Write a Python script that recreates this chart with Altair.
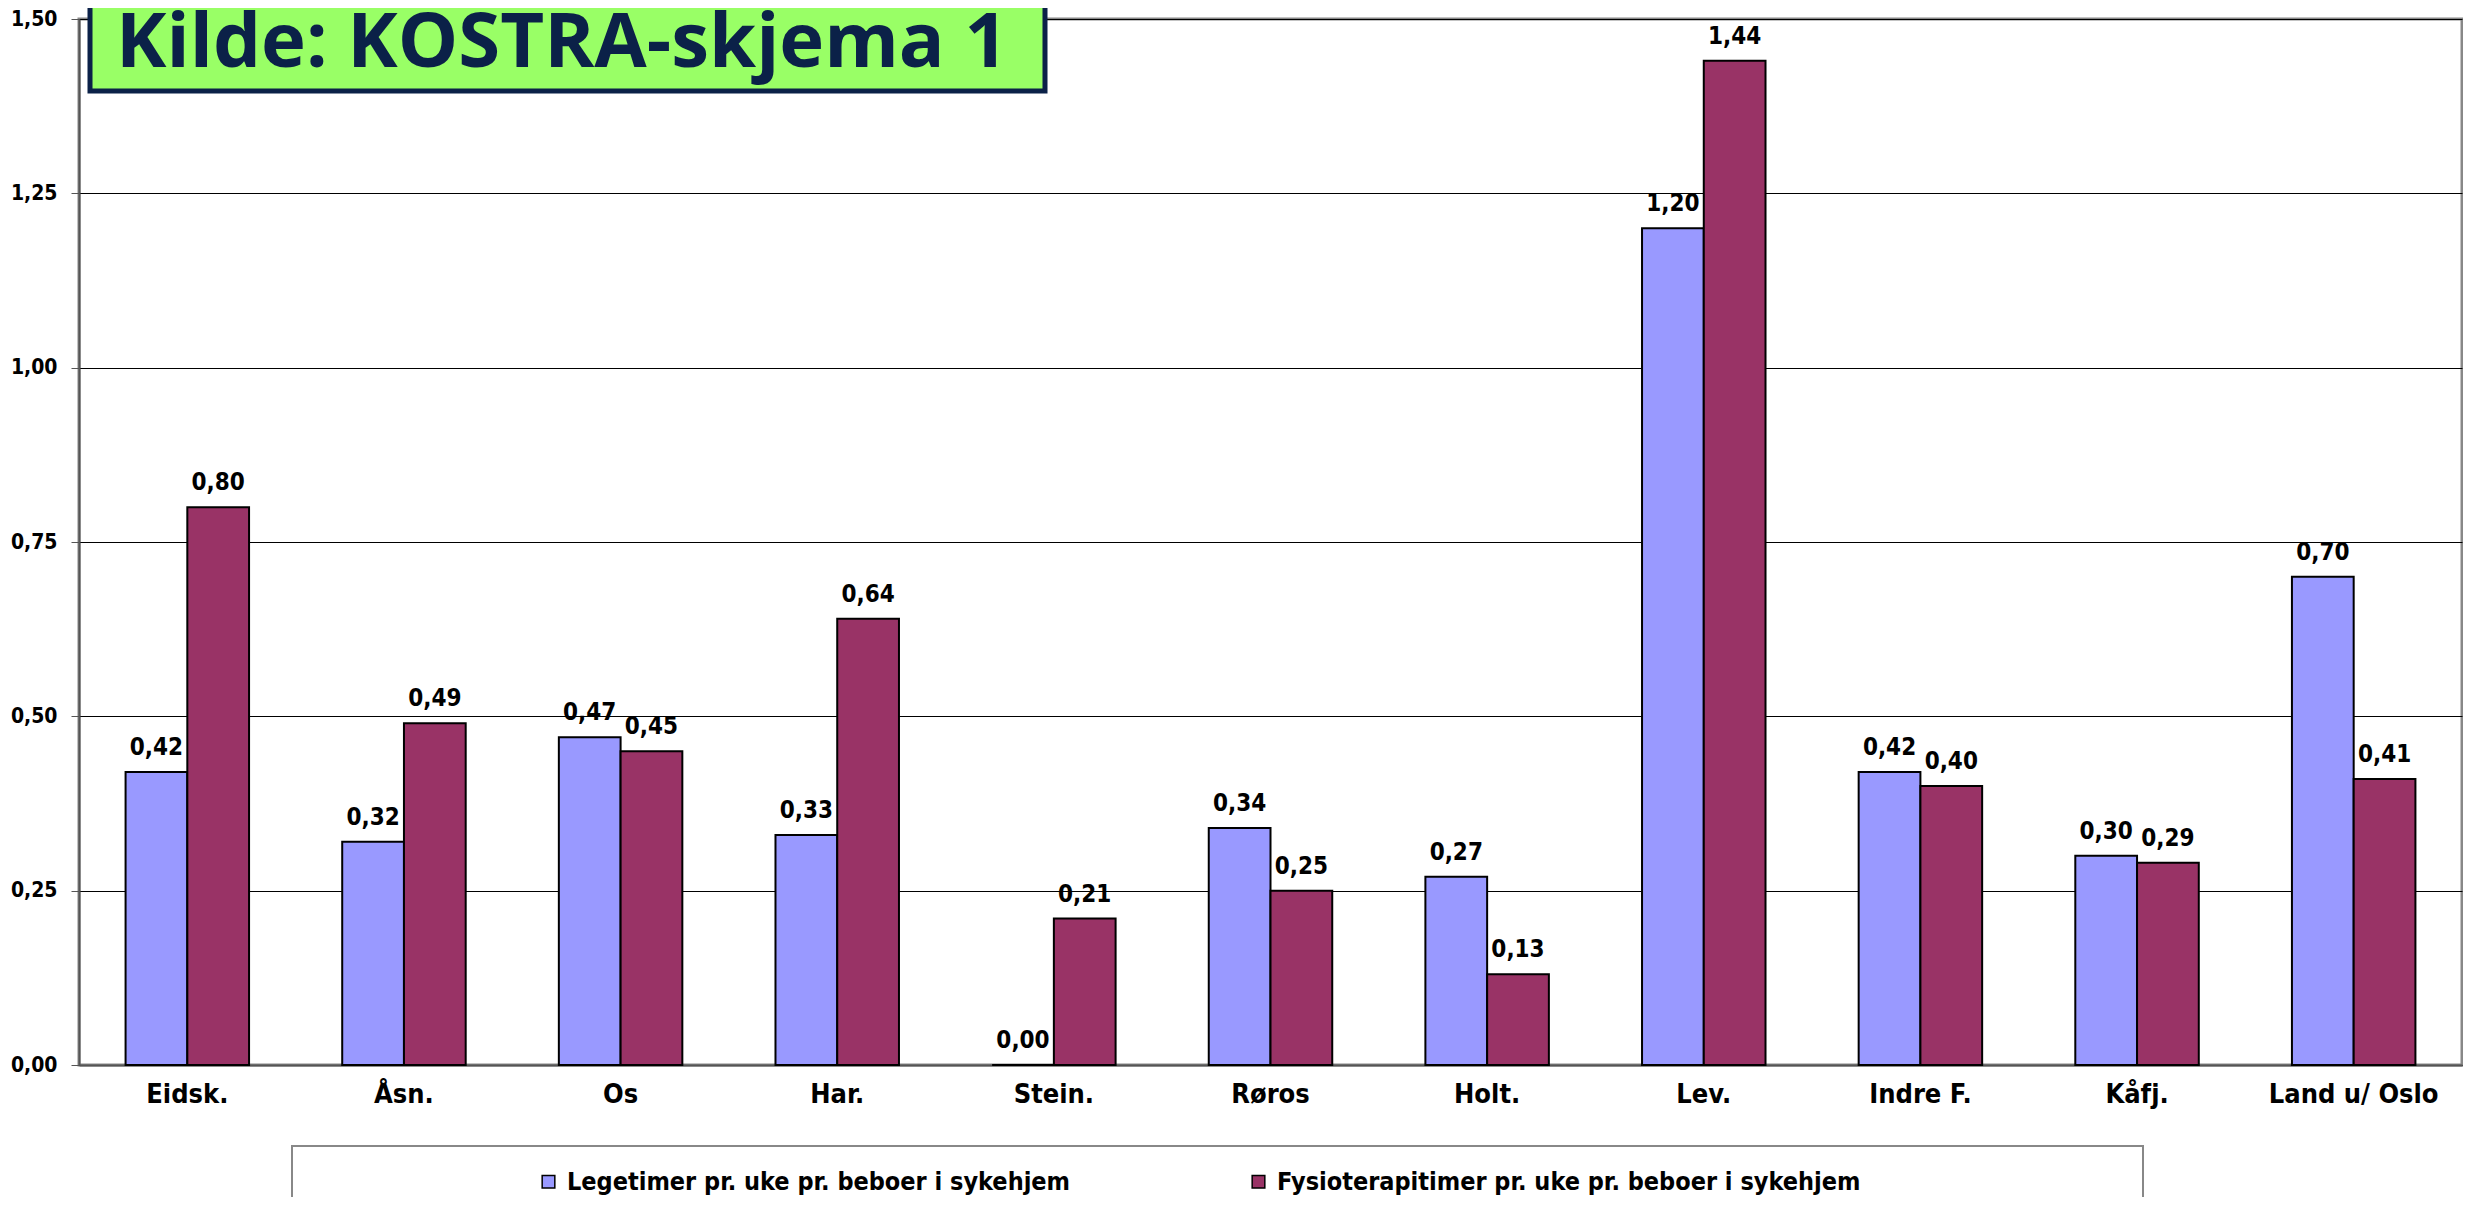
import altair as alt
import pandas as pd

categories = ["Eidsk.", "Åsn.", "Os", "Har.", "Stein.", "Røros", "Holt.", "Lev.",
              "Indre F.", "Kåfj.", "Land u/ Oslo"]
lege = [0.42, 0.32, 0.47, 0.33, 0.00, 0.34, 0.27, 1.20, 0.42, 0.30, 0.70]
fysio = [0.80, 0.49, 0.45, 0.64, 0.21, 0.25, 0.13, 1.44, 0.40, 0.29, 0.41]
series = ["Legetimer pr. uke pr. beboer i sykehjem",
          "Fysioterapitimer pr. uke pr. beboer i sykehjem"]
colors = ["#9999FF", "#993366"]
y_ticks = [0.0, 0.25, 0.5, 0.75, 1.0, 1.25, 1.5]
title_text = "Kilde: KOSTRA-skjema 1"

rows = []
for c, a, b in zip(categories, lege, fysio):
    rows.append({"kommune": c, "serie": series[0], "verdi": a})
    rows.append({"kommune": c, "serie": series[1], "verdi": b})
df = pd.DataFrame(rows)

W, H = 2383, 1046
FONT = "Liberation Sans Narrow, DejaVu Sans Condensed, Arial Narrow, sans-serif"
NAVY = "#0B2148"

x = alt.X("kommune:N", sort=categories,
          scale=alt.Scale(paddingInner=0.43, paddingOuter=0.215),
          axis=alt.Axis(title=None, labelAngle=0, labelFontSize=27, labelFont=FONT,
                        labelFontWeight="bold", labelColor="black", labelPadding=16,
                        ticks=False, domainColor="#555", domainWidth=2, grid=False))
xo = alt.XOffset("serie:N", sort=series)
y = alt.Y("verdi:Q", scale=alt.Scale(domain=[0, 1.5], nice=False),
          axis=alt.Axis(title=None, values=y_ticks,
                        labelExpr="replace(format(datum.value, '.2f'), '.', ',')",
                        labelFontSize=21, labelFont=FONT, labelFontWeight="bold",
                        labelColor="black", labelPadding=14, tickSize=8,
                        tickColor="#555", domainColor="#555", domainWidth=2,
                        grid=True, gridColor="black", gridWidth=1))
color = alt.Color("serie:N", sort=series,
                  scale=alt.Scale(domain=series, range=colors),
                  legend=alt.Legend(orient="none", legendX=457, legendY=1150,
                                    direction="horizontal", columns=2, title=None,
                                    symbolType="square", symbolSize=160,
                                    symbolStrokeColor="black", symbolStrokeWidth=1.5,
                                    labelFontSize=25, labelFont=FONT,
                                    labelFontWeight="bold", labelColor="black",
                                    columnPadding=175, labelLimit=1000, labelOffset=6))

one = pd.DataFrame({"t": [title_text]})

legend_box = alt.Chart(one).mark_rect(fill="white", stroke="#888", strokeWidth=2).encode(
    x=alt.value(213), x2=alt.value(2064), y=alt.value(1127), y2=alt.value(1300))

bars = alt.Chart(df).mark_bar(stroke="black", strokeWidth=2).encode(
    x=x, xOffset=xo, y=y, color=color)

labels = alt.Chart(df).transform_calculate(
    lbl="replace(format(datum.verdi, '.2f'), '.', ',')"
).mark_text(dy=-12, baseline="bottom", fontSize=24, fontWeight="bold",
            font=FONT, color="black").encode(x=x, xOffset=xo, y=y, text="lbl:N")

title_box = alt.Chart(one).mark_rect(fill="#99FF66", stroke=NAVY, strokeWidth=5).encode(
    x=alt.value(11), x2=alt.value(966), y=alt.value(-40), y2=alt.value(72))

title_txt = alt.Chart(one).mark_text(fontSize=76, font="Open Sans", fontWeight="bold",
                                     color=NAVY, align="center", baseline="alphabetic").encode(
    x=alt.value(483), y=alt.value(48), text="t:N")

chart = alt.layer(legend_box, bars, labels, title_box, title_txt).properties(
    width=W, height=H,
    padding={"left": 71, "top": 11, "right": 1, "bottom": 132},
    autosize=alt.AutoSizeParams(type="none"),
).configure_view(stroke="#888", strokeWidth=3)

chart.save("out.html", embed_options={"renderer": "svg", "actions": False})
